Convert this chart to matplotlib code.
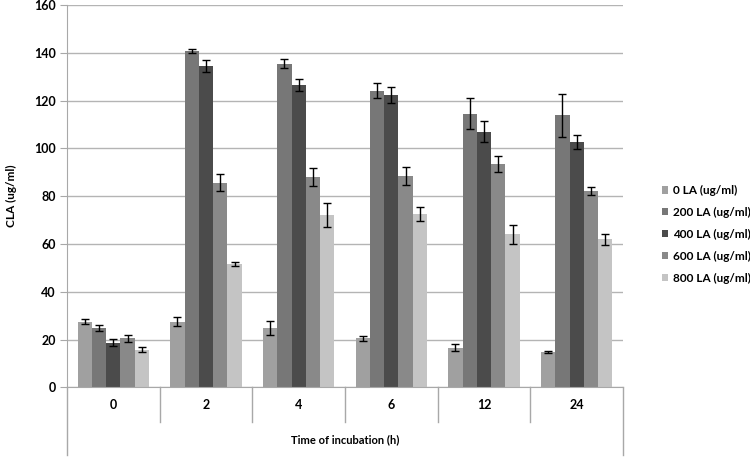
import numpy as np
import matplotlib.pyplot as plt

plt.rcParams['font.family'] = ['Lato', 'DejaVu Sans']

times = ["0", "2", "4", "6", "12", "24"]
series = ["0 LA (ug/ml)", "200 LA (ug/ml)", "400 LA (ug/ml)", "600 LA (ug/ml)", "800 LA (ug/ml)"]
colors = ["#a0a0a0", "#777777", "#4b4b4b", "#898989", "#c4c4c4"]

la0 = [27.5, 27.5, 25.0, 20.5, 16.7, 15.0]
la200 = [25.0, 140.7, 135.5, 124.2, 114.5, 113.8]
la400 = [18.7, 134.5, 126.7, 122.3, 107.0, 102.8]
la600 = [20.5, 85.7, 88.0, 88.3, 93.5, 82.2]
la800 = [15.8, 51.7, 72.0, 72.7, 64.0, 62.0]

err0 = [1.0, 1.8, 3.0, 1.2, 1.3, 0.4]
err200 = [1.2, 0.7, 1.7, 3.2, 6.5, 9.0]
err400 = [1.5, 2.5, 2.5, 3.5, 4.5, 3.0]
err600 = [1.5, 3.5, 3.8, 3.8, 3.5, 1.8]
err800 = [1.0, 0.7, 5.0, 3.0, 3.8, 2.3]

values = [la0, la200, la400, la600, la800]
errors = [err0, err200, err400, err600, err800]

fig = plt.figure(figsize=(7.5, 4.61), dpi=100)
ax = fig.add_axes([0.0893, 0.1595, 0.7414, 0.8297])

x = np.arange(len(times)) + 0.5
w = 0.154
for i, (v, e) in enumerate(zip(values, errors)):
    ax.bar(x + (i - 2) * w, v, w, color=colors[i], label=series[i], zorder=2,
           yerr=e, error_kw=dict(ecolor="black", elinewidth=1, capsize=3, capthick=1))

ax.set_xlim(0, len(times))
ax.set_ylim(0, 160)
ax.set_yticks(np.arange(0, 161, 20))
ax.yaxis.grid(True, color="#b4b4b4", linewidth=1, zorder=0)
ax.set_axisbelow(True)
for s in ["top", "right"]:
    ax.spines[s].set_visible(False)
ax.spines["left"].set_color("#a8a8a8")
ax.spines["bottom"].set_color("#a8a8a8")
ax.tick_params(axis="y", length=5, color="#a8a8a8", labelsize=9, pad=3)
for t in ax.get_yticklabels():
    t.set_fontweight("bold")

ax.set_xticks([])
# category labels and separators below the axis
for i, t in enumerate(times):
    ax.text(x[i], -0.047, t, transform=ax.get_xaxis_transform(), ha="center", va="center",
            fontsize=9, fontweight="bold")
for b in range(1, len(times)):
    ax.plot([b, b], [0, -0.09], transform=ax.get_xaxis_transform(), color="#a8a8a8",
            linewidth=1, clip_on=False)
for b in [0, len(times)]:
    ax.plot([b, b], [0, -0.177], transform=ax.get_xaxis_transform(), color="#a8a8a8",
            linewidth=1, clip_on=False)
ax.text(3, -0.137, "Time of incubation (h)", transform=ax.get_xaxis_transform(),
        ha="center", va="center", fontsize=8, fontweight="bold")

ax.set_ylabel("CLA (ug/ml)", fontsize=8.5, fontweight="bold", labelpad=12)

leg = ax.legend(loc="center left", bbox_to_anchor=(1.07, 0.40), frameon=False, fontsize=8.5,
                borderaxespad=0, borderpad=0,
                handlelength=0.55, handleheight=0.55, handletextpad=0.35, labelspacing=0.92)
for t in leg.get_texts():
    t.set_fontweight("bold")

fig.savefig("out.png", dpi=100)
